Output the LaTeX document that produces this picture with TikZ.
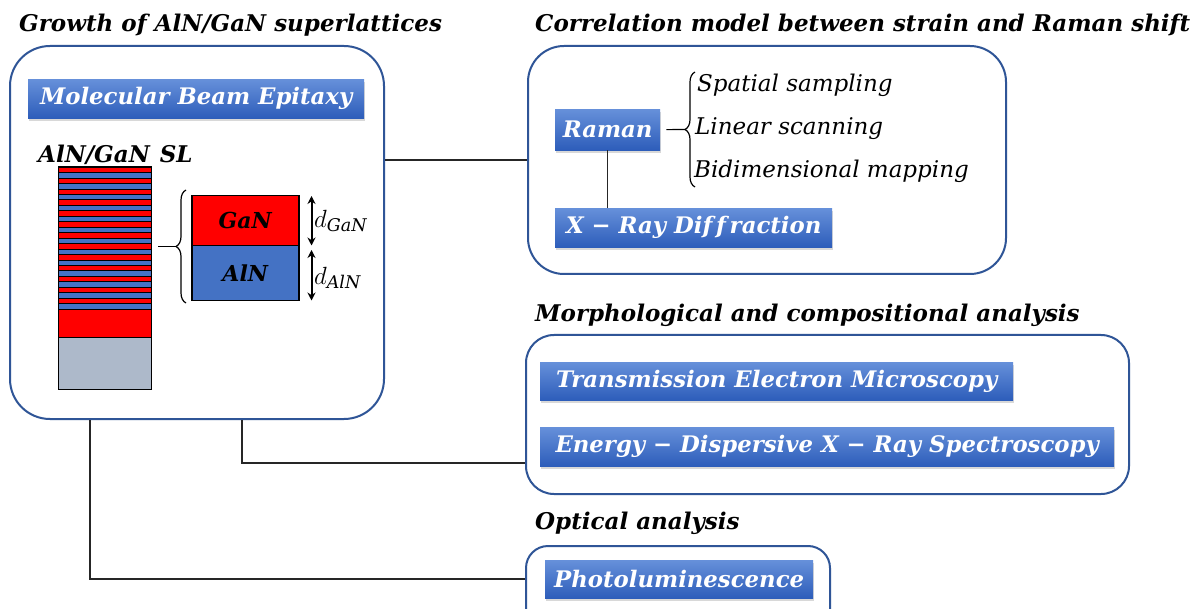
\documentclass[tikz,border=0pt]{standalone}
\usepackage{fontspec}
\setmainfont{DejaVu Serif}
\usetikzlibrary{shadows,decorations.pathreplacing,arrows.meta}
\definecolor{frameblue}{HTML}{2F5597}
\definecolor{topblue}{HTML}{6690DA}
\definecolor{botblue}{HTML}{2D5DBA}
\definecolor{layred}{HTML}{FF0000}
\definecolor{layblue}{HTML}{4472C4}
\definecolor{laygray}{HTML}{ADB9CA}
\begin{document}
\begin{tikzpicture}[x=1pt,y=-1pt,
  panel/.style={draw=frameblue, line width=2pt, rounded corners=#1, anchor=north west, inner sep=0pt},
  btn/.style={anchor=north west, inner sep=0pt, top color=topblue, bottom color=botblue, text=white,
    font=\bfseries\itshape\fontsize{22.8}{24}\selectfont,
    drop shadow={shadow xshift=1pt, shadow yshift=-2.5pt, opacity=0.3}},
  ttl/.style={anchor=west, inner sep=0pt, font=\bfseries\itshape\fontsize{23}{26}\selectfont},
  item/.style={anchor=west, inner sep=0pt, font=\itshape\fontsize{23}{26}\selectfont},
  layer/.style={draw=black, line width=1.5pt, anchor=north west, inner sep=0pt, minimum width=107pt,
    font=\bfseries\itshape\fontsize{22}{24}\selectfont},
  conn/.style={draw=black!85, line width=1.3pt},
  brc/.style={decorate, decoration={brace, amplitude=10pt}, line width=1.2pt},
  dimarr/.style={{Stealth[length=8pt,width=8pt]}-{Stealth[length=8pt,width=8pt]}, line width=2pt},
  ]
\clip (0,0) rectangle (1204,609);
\fill[white] (0,0) rectangle (1204,609);

% panels
\node[panel=40pt, minimum width=374pt, minimum height=373pt] (growth) at (9,45) {};
\node[panel=36pt, minimum width=478pt, minimum height=228pt] (corr) at (527,45) {};
\node[panel=28pt, minimum width=603pt, minimum height=159pt] (morph) at (525,334) {};
\node[panel=22pt, minimum width=304pt, minimum height=90pt] (optic) at (525,545) {};

% titles
\node[ttl] (t1) at (19,25) {Growth of AlN/GaN superlattices};
\node[ttl] (t2) at (535,25) {Correlation model between strain and Raman shift};
\node[ttl] (t3) at (535,315) {Morphological and compositional analysis};
\node[ttl] (t4) at (535,523) {Optical analysis};

% buttons
\node[btn, minimum width=336pt, minimum height=39pt] (mbe) at (28,79) {Molecular Beam Epitaxy};
\node[btn, minimum width=105pt, minimum height=41pt] (raman) at (555,109) {Raman};
\node[btn, minimum width=277pt, minimum height=39pt] (xrd) at (555,208) {X − Ray Dif\,f\,raction};
\node[btn, minimum width=473pt, minimum height=38pt] (tem) at (540,362) {Transmission Electron Microscopy};
\node[btn, minimum width=574pt, minimum height=39pt] (edx) at (540,427) {Energy − Dispersive X − Ray Spectroscopy};
\node[btn, minimum width=268pt, minimum height=38pt] (pl) at (545,560) {Photoluminescence};

% SL stack
\node[ttl, font=\bfseries\itshape\fontsize{23}{26}\selectfont] (sl) at (38,155) {AlN/GaN\hspace{10pt}SL};
\foreach \i in {0,...,12}{
  \pgfmathsetmacro{\ya}{167+\i*10.92}
  \pgfmathsetmacro{\yb}{\ya+5.46}
  \pgfmathsetmacro{\yc}{\ya+10.92}
  \draw[fill=layred, line width=0.6pt] (58,\ya) rectangle (151,\yb);
  \draw[fill=layblue, line width=0.6pt] (58,\yb) rectangle (151,\yc);
}
\draw[fill=layred, line width=0.8pt] (58,309) rectangle (151,337);
\draw[fill=laygray, line width=0.8pt] (58,337) rectangle (151,389);
\draw[line width=1pt] (58,167) rectangle (151,389);

% detail layers
\node[layer, fill=layred, minimum height=50pt] (gan) at (191,195) {GaN};
\node[layer, fill=layblue, minimum height=55pt] (aln) at (191,245) {AlN};
\draw[dimarr] ([xshift=12pt,yshift=-1pt]gan.north east) -- ([xshift=12pt,yshift=1pt]gan.south east);
\draw[dimarr] ([xshift=12pt,yshift=-5pt]aln.north east) -- ([xshift=12pt,yshift=1pt]aln.south east);
\node[anchor=west, inner sep=0pt, font=\fontsize{25}{26}\selectfont] (dg) at (314,221) {$d_{\mathit{GaN}}$};
\node[anchor=west, inner sep=0pt, font=\fontsize{25}{26}\selectfont] (da) at (314,278) {$d_{\mathit{AlN}}$};
\draw[brc] (186,303) -- (186,190);
\draw[line width=1.2pt] (158,246.5) -- (176,246.5);

% Raman details
\draw[brc] (695,187) -- (695,72);
\draw[line width=1.2pt, shorten <=6pt] (raman.east) -- (685,129.5);
\node[item] (s1) at (697,85) {Spatial sampling};
\node[item] (s2) at (695,129) {Linear scanning};
\node[item] (s3) at (694,171) {Bidimensional mapping};

% connectors
\draw[conn] (raman.south) -- (raman.south |- xrd.north);
\draw[conn] (growth.east |- corr.west) -- (corr.west);
\draw[conn] ([xshift=233pt]growth.south west) |- ([yshift=-48.5pt]morph.west);
\draw[conn] ([xshift=81pt]growth.south west) |- ([yshift=12pt]optic.west);
\end{tikzpicture}
\end{document}
